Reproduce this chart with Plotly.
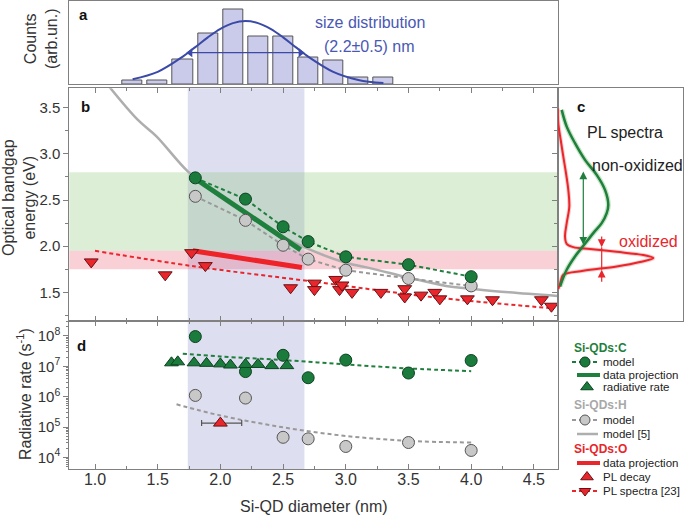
import plotly.graph_objects as go
import math

W, H = 685, 515
FONT = "Liberation Sans, Arial, sans-serif"

# ---------------- data ----------------
# (a) size histogram + gaussian fit
hist_d = [1.3, 1.5, 1.7, 1.9, 2.1, 2.3, 2.5, 2.7, 2.9, 3.1, 3.3]
hist_counts = [1.1, 1.1, 7.2, 15.1, 22.0, 14.0, 14.0, 8.0, 7.1, 2.0, 2.0]
fit_d = [1.3, 1.5, 1.7, 1.8, 1.9, 2.0, 2.1, 2.2, 2.3, 2.4, 2.5, 2.6, 2.7, 2.9, 3.1, 3.3]
fit_counts = [1.5, 3.7, 8.2, 11.0, 13.9, 16.4, 18.1, 18.7, 18.1, 16.4, 13.9, 11.0, 8.2, 3.7, 1.3, 0.35]
fwhm_d = [1.76, 2.64]
fwhm_counts = 9.35

# (b) optical bandgap
model_d = [1.8, 2.2, 2.5, 2.7, 3.0, 3.5, 4.0]
c_model_e = [2.74, 2.51, 2.21, 2.05, 1.885, 1.80, 1.67]
h_model_e = [2.54, 2.28, 2.01, 1.86, 1.74, 1.65, 1.57]
h_ref_d = [1.10, 1.34, 1.49, 1.74, 2.0, 2.2, 2.5, 2.7, 3.0, 3.2, 3.5, 3.8, 4.0, 4.3, 4.69]
h_ref_e = [3.75, 3.37, 3.19, 2.81, 2.53, 2.35, 2.10, 1.97, 1.82, 1.76, 1.66, 1.57, 1.54, 1.50, 1.46]
c_proj_d = [1.78, 2.64]
c_proj_e = [2.75, 1.96]
o_proj_d = [1.78, 2.65]
o_proj_e = [1.95, 1.77]
o_model_d = [1.0, 1.8, 2.78, 3.68, 4.63]
o_model_e = [1.95, 1.78, 1.61, 1.45, 1.33]
o_pl_d = [0.97, 1.56, 1.77, 1.88, 2.56, 2.75, 2.75, 2.92, 2.95, 2.97, 3.05, 3.28, 3.47,
          3.47, 3.60, 3.71, 3.75, 3.97, 4.17, 4.56, 4.64]
o_pl_e = [1.83, 1.69, 1.93, 1.79, 1.55, 1.60, 1.53, 1.64, 1.53, 1.58, 1.50, 1.50, 1.54,
          1.45, 1.47, 1.50, 1.43, 1.43, 1.42, 1.42, 1.35]
size_band = [1.74, 2.67]
green_band = [1.95, 2.8]
red_band = [1.75, 1.95]

# (c) PL spectra (intensity, energy)
green_I = [2.3, 9.0, 17.3, 25.6, 35.6, 44.0, 49.0, 50.6, 47.3, 39.0, 27.3, 17.3, 9.0, 4.0]
green_E = [1.564, 1.745, 1.889, 2.004, 2.142, 2.25, 2.358, 2.448, 2.61, 2.773, 2.935, 3.116, 3.295, 3.476]
red_I = [0.6, 3.0, 5.6, 25.6, 59.0, 82.3, 95.6, 85.6, 59.0, 32.3, 15.6, 9.0, 7.3, 9.0, 11.6,
         10.6, 8.3, 5.6, 3.0, 0.6, 0.0]
red_E = [1.536, 1.618, 1.690, 1.734, 1.780, 1.828, 1.871, 1.904, 1.939, 1.969, 1.99, 2.026,
         2.105, 2.25, 2.43, 2.61, 2.79, 2.97, 3.15, 3.33, 3.49]
green_arrow_I, green_arrow_E = 25.6, [2.0, 2.81]
red_arrow_I, red_arrow_E = 44.0, [2.12, 1.99, 1.745, 1.60]

# (d) radiative rate
c_rate = [9.5e7, 6.7e6, 2.3e7, 4.2e6, 1.6e7, 6.0e6, 1.55e7]
h_rate = [1.1e6, 9.0e5, 4.6e4, 4.1e4, 2.3e4, 3.1e4, 1.7e4]
c_rate_model_d = [1.7, 2.0, 2.5, 3.0, 3.5, 4.0]
c_rate_model = [2.6e7, 2.1e7, 1.6e7, 1.15e7, 8.5e6, 6.9e6]
h_rate_model_d = [1.65, 2.0, 2.5, 3.0, 3.5, 4.0]
h_rate_model = [5.6e5, 2.4e5, 9.8e4, 5.1e4, 3.5e4, 3.1e4]
c_rad_d = [1.61, 1.66, 1.79, 1.89, 2.0, 2.08, 2.2, 2.3, 2.41, 2.53]
c_rad = [1.3e7, 1.4e7, 1.3e7, 1.25e7, 1.2e7, 1.1e7, 1.15e7, 1.15e7, 1.05e7, 1.05e7]
o_decay_d = [2.0]
o_decay = [1.35e5]
o_decay_err_minus = [0.15]
o_decay_err_plus = [0.17]
yellow_min = 1e7

x_ticks = [1.0, 1.5, 2.0, 2.5, 3.0, 3.5, 4.0, 4.5]
e_ticks = [1.5, 2.0, 2.5, 3.0, 3.5]
rate_ticks = [1e4, 1e5, 1e6, 1e7, 1e8]
rate_ticktext = ["10<sup>4</sup>", "10<sup>5</sup>", "10<sup>6</sup>", "10<sup>7</sup>", "10<sup>8</sup>"]

# ---------------- styles ----------------
GREEN = "#1b7b3c"
GREEN_LINE = "#1f7f3d"
GREY_M = "#c8c8c8"
GREY_L = "#aeaeae"
RED = "#e8262b"
BLUE = "#3b4aa8"
AXC = "#808080"

X_RANGE = [0.795, 4.69]
E_RANGE = [1.19, 3.71]
LOG_RANGE = [3.61, 8.49]

def px(x):
    return x / W

def py(y):
    return 1 - y / H

XD = [px(69.3), px(557.7)]
A_YD = [py(84.3), py(0.5)]
B_YD = [py(321), py(88.3)]
D_YD = [py(469.3), py(321)]
C_XD = [px(557.7), px(683)]

fig = go.Figure()

# --- panel a ---
fig.add_trace(go.Bar(x=hist_d, y=hist_counts, width=0.16, xaxis="x", yaxis="y",
                     marker=dict(color="#cacaea", line=dict(color="#555", width=1))))
fig.add_trace(go.Scatter(x=fit_d, y=fit_counts, mode="lines", xaxis="x", yaxis="y",
                         line=dict(color=BLUE, width=2, shape="spline")))
fig.add_trace(go.Scatter(x=fwhm_d, y=[fwhm_counts] * 2, mode="lines+markers", xaxis="x", yaxis="y",
                         line=dict(color=BLUE, width=1.3),
                         marker=dict(symbol=["triangle-left", "triangle-right"], size=8, color=BLUE)))

# --- panel b ---
fig.add_trace(go.Scatter(x=h_ref_d, y=h_ref_e, mode="lines", xaxis="x2", yaxis="y2",
                         line=dict(color=GREY_L, width=2.5, shape="spline")))
fig.add_trace(go.Scatter(x=o_model_d, y=o_model_e, mode="lines", xaxis="x2", yaxis="y2",
                         line=dict(color=RED, width=2, dash="4px,3px", shape="spline")))
fig.add_trace(go.Scatter(x=model_d, y=h_model_e, mode="lines", xaxis="x2", yaxis="y2",
                         line=dict(color="#999", width=2, dash="4px,3px")))
fig.add_trace(go.Scatter(x=model_d, y=c_model_e, mode="lines", xaxis="x2", yaxis="y2",
                         line=dict(color=GREEN_LINE, width=2, dash="4px,3px")))
fig.add_trace(go.Scatter(x=c_proj_d, y=c_proj_e, mode="lines", xaxis="x2", yaxis="y2",
                         line=dict(color=GREEN_LINE, width=5)))
fig.add_trace(go.Scatter(x=o_proj_d, y=o_proj_e, mode="lines", xaxis="x2", yaxis="y2",
                         line=dict(color="#ee2229", width=5)))
fig.add_trace(go.Scatter(x=model_d, y=h_model_e, mode="markers", xaxis="x2", yaxis="y2",
                         marker=dict(color=GREY_M, size=12, line=dict(color="#555", width=1))))
fig.add_trace(go.Scatter(x=model_d, y=c_model_e, mode="markers", xaxis="x2", yaxis="y2",
                         marker=dict(color=GREEN, size=12, line=dict(color="#0c4220", width=1))))
fig.add_trace(go.Scatter(x=o_pl_d, y=o_pl_e, mode="markers", xaxis="x2", yaxis="y2",
                         marker=dict(symbol="triangle-down", color=RED, size=12,
                                     line=dict(color="#6a1014", width=1))))

# --- panel c ---
fig.add_trace(go.Scatter(x=green_I, y=green_E, mode="lines", xaxis="x3", yaxis="y3",
                         line=dict(color="rgba(90,180,90,0.35)", width=5, shape="spline")))
fig.add_trace(go.Scatter(x=red_I, y=red_E, mode="lines", xaxis="x3", yaxis="y3",
                         line=dict(color="rgba(235,80,80,0.3)", width=4, shape="spline")))
fig.add_trace(go.Scatter(x=red_I, y=red_E, mode="lines", xaxis="x3", yaxis="y3",
                         line=dict(color=RED, width=2, shape="spline")))
fig.add_trace(go.Scatter(x=green_I, y=green_E, mode="lines", xaxis="x3", yaxis="y3",
                         line=dict(color=GREEN_LINE, width=2.5, shape="spline")))

# --- panel d ---
fig.add_trace(go.Scatter(x=h_rate_model_d, y=h_rate_model, mode="lines", xaxis="x4", yaxis="y4",
                         line=dict(color="#999", width=2, dash="4px,3px", shape="spline")))
fig.add_trace(go.Scatter(x=c_rate_model_d, y=c_rate_model, mode="lines", xaxis="x4", yaxis="y4",
                         line=dict(color=GREEN_LINE, width=2, dash="4px,3px", shape="spline")))
fig.add_trace(go.Scatter(x=model_d, y=h_rate, mode="markers", xaxis="x4", yaxis="y4",
                         marker=dict(color=GREY_M, size=12, line=dict(color="#555", width=1))))
fig.add_trace(go.Scatter(x=model_d, y=c_rate, mode="markers", xaxis="x4", yaxis="y4",
                         marker=dict(color=GREEN, size=12, line=dict(color="#0c4220", width=1))))
fig.add_trace(go.Scatter(x=c_rad_d, y=c_rad, mode="markers", xaxis="x4", yaxis="y4",
                         marker=dict(symbol="triangle-up", color=GREEN, size=12,
                                     line=dict(color="#0c4220", width=1))))
fig.add_trace(go.Scatter(x=o_decay_d, y=o_decay, mode="markers", xaxis="x4", yaxis="y4",
                         error_x=dict(type="data", array=o_decay_err_plus, arrayminus=o_decay_err_minus,
                                      color="#555", thickness=1.2, width=3),
                         marker=dict(symbol="triangle-up", color=RED, size=12,
                                     line=dict(color="#6a1014", width=1))))

# --- legend (drawn on an auxiliary pixel axis) ---
LEG_ROWS = [
    ("Si-QDs:C", "header", GREEN_LINE, 348),
    ("model", "dash-circle", GREEN, 362),
    ("data projection", "thick", GREEN_LINE, 375),
    ("radiative rate", "tri-up", GREEN, 387),
    ("Si-QDs:H", "header", "#a8a8a8", 405),
    ("model", "dash-circle", GREY_M, 420),
    ("model [5]", "solid", GREY_L, 434),
    ("Si-QDs:O", "header", RED, 449),
    ("data projection", "thick", RED, 463),
    ("PL decay", "tri-up", RED, 477),
    ("PL spectra [23]", "dash-tri", RED, 491),
]
annotations = []
for label, kind, col, yy in LEG_ROWS:
    if kind == "header":
        annotations.append(dict(x=572, y=yy, xref="x5", yref="y5", text="<b>%s</b>" % label,
                                showarrow=False, xanchor="left", yanchor="middle",
                                font=dict(size=12, color=col, family=FONT)))
        continue
    annotations.append(dict(x=601, y=yy, xref="x5", yref="y5", text=label, showarrow=False,
                            xanchor="left", yanchor="middle", font=dict(size=11.5, color="#222", family=FONT)))
    if kind in ("dash-circle", "dash-tri"):
        lc = "#999" if col == GREY_M else col
        fig.add_trace(go.Scatter(x=[572, 598], y=[yy, yy], mode="lines", xaxis="x5", yaxis="y5",
                                 line=dict(color=lc, width=2, dash="4px,3px"), cliponaxis=False))
        sym = "circle" if kind == "dash-circle" else "triangle-down"
        oc = "#555" if col == GREY_M else ("#0c4220" if col == GREEN else "#6a1014")
        fig.add_trace(go.Scatter(x=[585], y=[yy], mode="markers", xaxis="x5", yaxis="y5",
                                 marker=dict(symbol=sym, size=10, color=col, line=dict(color=oc, width=1)),
                                 cliponaxis=False))
    elif kind == "thick":
        fig.add_trace(go.Scatter(x=[577, 600], y=[yy, yy], mode="lines", xaxis="x5", yaxis="y5",
                                 line=dict(color=col, width=4), cliponaxis=False))
    elif kind == "solid":
        fig.add_trace(go.Scatter(x=[577, 598], y=[yy, yy], mode="lines", xaxis="x5", yaxis="y5",
                                 line=dict(color=col, width=2.5), cliponaxis=False))
    elif kind == "tri-up":
        oc = "#0c4220" if col == GREEN else "#6a1014"
        fig.add_trace(go.Scatter(x=[587], y=[yy], mode="markers", xaxis="x5", yaxis="y5",
                                 marker=dict(symbol="triangle-up", size=11, color=col,
                                             line=dict(color=oc, width=1)), cliponaxis=False))

# --- shapes (bands) ---
shapes = [
    dict(type="rect", xref="x2", yref="y2 domain", x0=size_band[0], x1=size_band[1], y0=0, y1=1,
         fillcolor="rgba(160,160,215,0.35)", line_width=0, layer="below"),
    dict(type="rect", xref="x2 domain", yref="y2", x0=0, x1=1, y0=green_band[0], y1=green_band[1],
         fillcolor="rgba(140,200,120,0.3)", line_width=0, layer="below"),
    dict(type="rect", xref="x2 domain", yref="y2", x0=0, x1=1, y0=red_band[0], y1=red_band[1],
         fillcolor="rgba(235,100,120,0.3)", line_width=0, layer="below"),
    dict(type="rect", xref="x4 domain", yref="y4", x0=0, x1=1, y0=math.log10(yellow_min), y1=LOG_RANGE[1],
         fillcolor="rgba(245,225,120,0.35)", line_width=0, layer="below"),
    dict(type="rect", xref="x4", yref="y4 domain", x0=size_band[0], x1=size_band[1], y0=0, y1=1,
         fillcolor="rgba(160,160,215,0.35)", line_width=0, layer="below"),
]

# --- panel c arrows ---
annotations += [
    dict(x=green_arrow_I, y=green_arrow_E[1], ax=green_arrow_I, ay=green_arrow_E[0], xref="x3", yref="y3",
         axref="x3", ayref="y3", text="", showarrow=True, arrowhead=2, arrowside="end+start",
         arrowsize=1.3, arrowwidth=1.2, arrowcolor=GREEN_LINE),
    dict(x=red_arrow_I, y=red_arrow_E[1], ax=red_arrow_I, ay=red_arrow_E[0], xref="x3", yref="y3",
         axref="x3", ayref="y3", text="", showarrow=True, arrowhead=2, arrowsize=1.3, arrowwidth=1.2,
         arrowcolor=RED),
    dict(x=red_arrow_I, y=red_arrow_E[2], ax=red_arrow_I, ay=red_arrow_E[3], xref="x3", yref="y3",
         axref="x3", ayref="y3", text="", showarrow=True, arrowhead=2, arrowsize=1.3, arrowwidth=1.2,
         arrowcolor=RED),
]
fig.add_trace(go.Scatter(x=[red_arrow_I, red_arrow_I], y=[red_arrow_E[1], red_arrow_E[2]], mode="lines",
                         xaxis="x3", yaxis="y3", line=dict(color=RED, width=1.2)))

def txt(x, y, s, size=16, color="#222", angle=0, bold=False, anchor="center"):
    if bold:
        s = "<b>%s</b>" % s
    return dict(x=px(x), y=py(y), xref="paper", yref="paper", text=s, showarrow=False,
                textangle=angle, xanchor=anchor, yanchor="middle",
                font=dict(size=size, color=color, family=FONT))

annotations += [
    txt(83, 15, "a", 15, "#111", bold=True),
    txt(85, 107, "b", 15, "#111", bold=True),
    txt(581, 107, "c", 15, "#111", bold=True),
    txt(81, 345, "d", 15, "#111", bold=True),
    txt(41, 39, "Counts<br>(arb.un.)", 16, "#333", angle=-90),
    txt(19, 198, "Optical bandgap<br>energy (eV)", 16, "#333", angle=-90),
    txt(24, 394, "Radiative rate (s<sup>-1</sup>)", 16, "#333", angle=-90),
    txt(313.5, 506, "Si-QD diameter (nm)", 16, "#333"),
    txt(625, 132, "PL spectra", 16, "#222"),
    txt(637, 165, "non-oxidized", 16, "#222"),
    txt(648, 242, "oxidized", 16, RED),
]
annotations += [
    dict(x=3.19, y=18.2, xref="x", yref="y", text="size distribution", showarrow=False,
         font=dict(size=16, color="#4a58b4", family=FONT)),
    dict(x=3.19, y=11.1, xref="x", yref="y", text="(2.2±0.5) nm", showarrow=False,
         font=dict(size=16, color="#4a58b4", family=FONT)),
]

box = dict(showline=True, linecolor=AXC, linewidth=1, mirror=True, showgrid=False, zeroline=False)
tickfont = dict(size=16, color="#333", family=FONT)
minor_x = dict(dtick=0.25, tick0=0, ticklen=3, ticks="inside", tickcolor=AXC)
log_minor = [m * 10 ** k for k in range(3, 9) for m in range(2, 10)]

fig.update_layout(
    width=W, height=H, margin=dict(l=0, r=0, t=0, b=0),
    paper_bgcolor="white", plot_bgcolor="rgba(0,0,0,0)", showlegend=False,
    font=dict(family=FONT),
    xaxis=dict(domain=XD, range=X_RANGE, anchor="y", showticklabels=False, ticks="", **box),
    yaxis=dict(domain=A_YD, range=[0, 24.8], anchor="x", showticklabels=False, ticks="", **box),
    xaxis2=dict(domain=XD, range=X_RANGE, anchor="y2", showticklabels=False, ticks="inside",
                tickvals=x_ticks, ticklen=5, tickcolor=AXC, minor=minor_x,
                showline=True, linecolor=AXC, mirror="ticks", showgrid=False, zeroline=False),
    yaxis2=dict(domain=B_YD, range=E_RANGE, anchor="x2", tickvals=e_ticks, tickformat=".1f",
                ticks="outside", ticklen=5, tickcolor=AXC, tickfont=dict(size=15, color="#333", family=FONT),
                minor=dict(dtick=0.25, tick0=0, ticklen=3, ticks="outside", tickcolor=AXC), **box),
    xaxis3=dict(domain=C_XD, range=[0, 125.3], anchor="y3", showticklabels=False, ticks="", **box),
    yaxis3=dict(domain=B_YD, range=E_RANGE, anchor="x3", showticklabels=False, ticks="outside",
                tickvals=e_ticks, ticklen=5, tickcolor=AXC,
                minor=dict(dtick=0.25, tick0=0, ticklen=3, ticks="outside", tickcolor=AXC), **box),
    xaxis4=dict(domain=XD, range=X_RANGE, anchor="y4", tickvals=x_ticks, tickformat=".1f",
                ticks="inside", ticklen=5, tickcolor=AXC, tickfont=tickfont, minor=minor_x,
                ticklabelstandoff=-5,
                showline=True, linecolor=AXC, mirror="ticks", showgrid=False, zeroline=False),
    yaxis4=dict(domain=D_YD, type="log", range=LOG_RANGE, anchor="x4", tickvals=rate_ticks,
                ticktext=rate_ticktext, ticks="outside", ticklen=5, tickcolor=AXC,
                tickfont=dict(size=15, color="#333", family=FONT),
                minor=dict(tickvals=log_minor, ticklen=2, ticks="outside", tickcolor=AXC), **box),
    xaxis5=dict(domain=[px(555), 1], range=[555, 685], anchor="y5", visible=False, fixedrange=True),
    yaxis5=dict(domain=[0, py(325)], range=[515, 325], anchor="x5", visible=False, fixedrange=True),
    shapes=shapes, annotations=annotations, bargap=0,
)

fig.write_html("out.html", config={"displayModeBar": False},
               post_script="document.body.style.margin='0px';document.body.style.overflow='hidden';")
